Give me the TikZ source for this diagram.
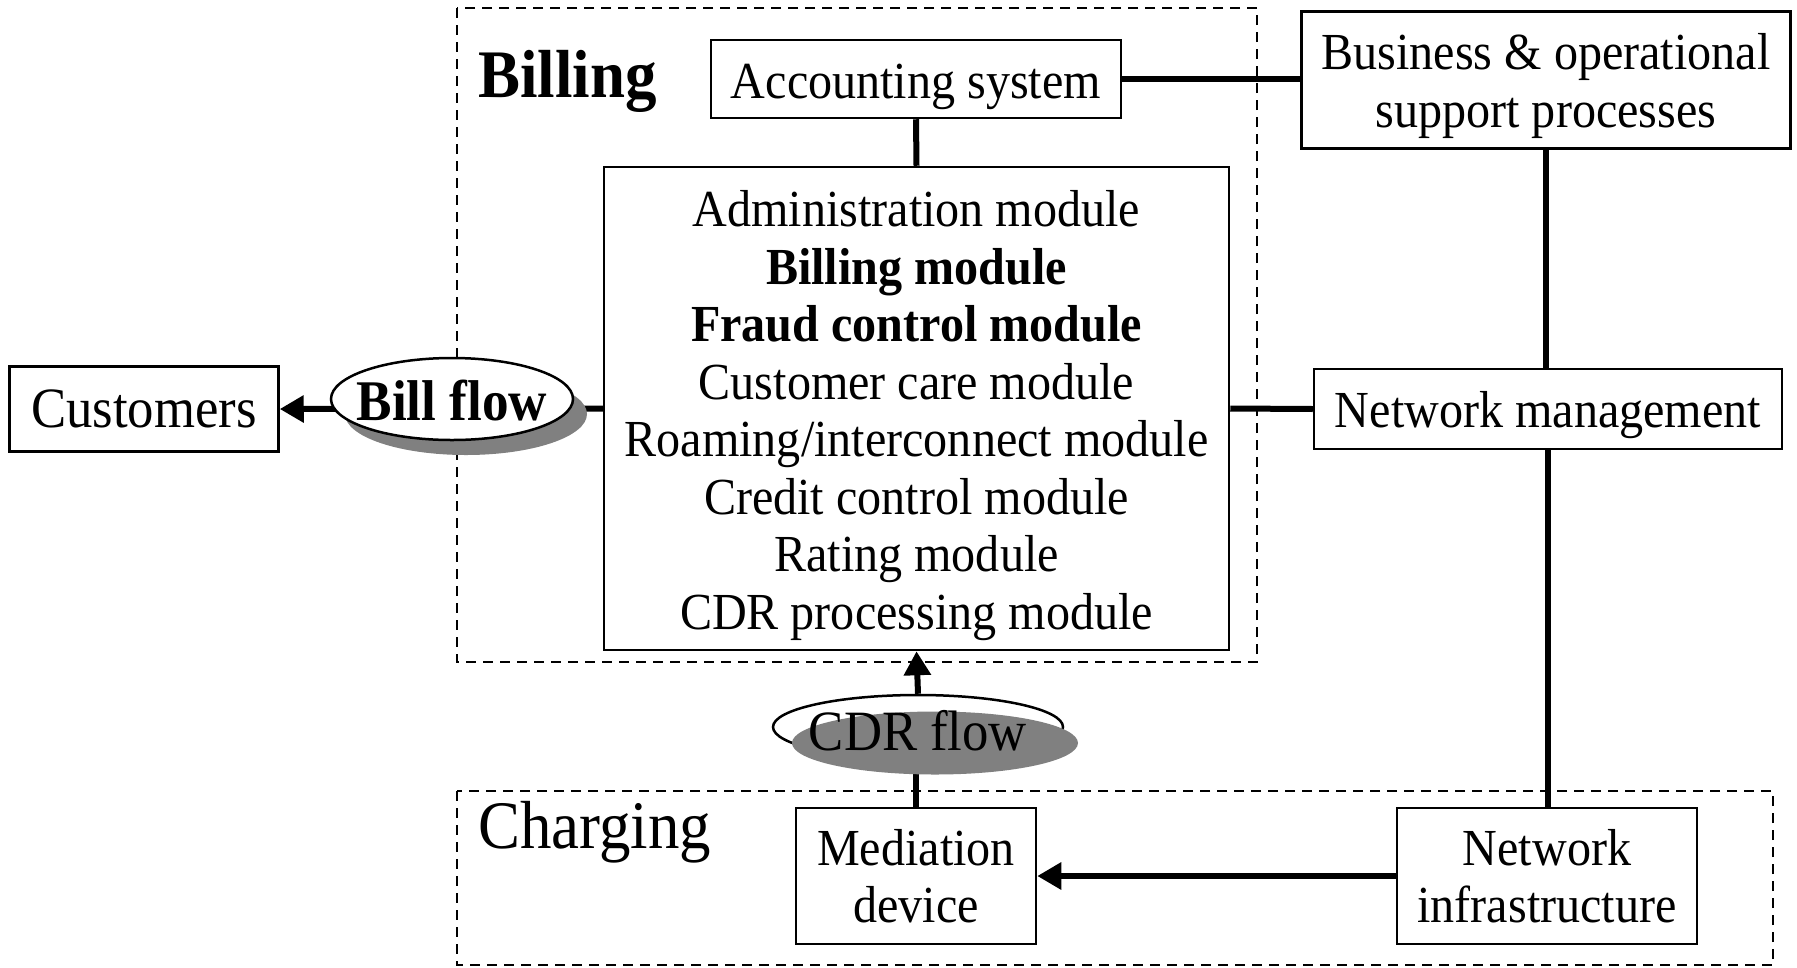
\documentclass[tikz,border=0pt]{standalone}
\usepackage{fontspec}
\setmainfont{Liberation Serif}[FakeStretch=0.925]
\usetikzlibrary{arrows.meta,shapes.geometric,shadows}
\newcommand{\sinkline}[1]{\rule{0pt}{#1}}
\begin{document}
\begin{tikzpicture}[x=1pt,y=-1pt,
 box/.style={draw, line width=2.5pt, fill=white, inner sep=0pt, align=center, font=\fontsize{52}{57.5}\selectfont},
 sinktext/.style={execute at begin node={\rule{0pt}{#1}}},
 conn/.style={line width=6pt},
 tip/.style={-{Triangle[length=24pt,width=26pt]}},
 region/.style={draw, line width=2pt, dash pattern=on 10pt off 7pt},
 flowtext/.style={inner sep=0pt, font=\fontsize{57}{60}\selectfont},
]
\useasboundingbox (0,0) rectangle (1797,967);
% regions
\draw[region] (457,8) rectangle (1257,662);
\draw[region] (457,791) rectangle (1773,965);
\node[anchor=base west, inner sep=0pt, font=\fontsize{68}{72}\selectfont\bfseries] (billinglbl) at (478,97) {Billing};
\node[anchor=base west, inner sep=0pt, font=\fontsize{68}{72}\selectfont] (charginglbl) at (478,848) {Charging};
% boxes
\node[box, minimum width=269pt, minimum height=85pt, font=\fontsize{57}{62}\selectfont] (cust) at (144,409) {Customers};
\node[box, sinktext=50pt, minimum width=410pt, minimum height=78pt] (acc) at (916,79) {Accounting system};
\node[box, minimum width=489pt, minimum height=137pt] (bus) at (1546,80) {\sinkline{48pt}Business \& operational\\support processes};
\node[box, minimum width=625pt, minimum height=483pt] (main) at (916.5,408.5) {\sinkline{50pt}Administration module\\\textbf{Billing module}\\\textbf{Fraud control module}\\Customer care module\\Roaming/interconnect module\\Credit control module\\Rating module\\CDR processing module};
\node[box, sinktext=48pt, minimum width=468pt, minimum height=80pt] (nm) at (1548,409) {Network management};
\node[box, minimum width=240pt, minimum height=136pt] (med) at (916,876) {Mediation\\device};
\node[box, minimum width=300pt, minimum height=136pt] (ni) at (1547,876) {Network\\infrastructure};
% connectors
\draw[conn] (acc.east) -- (acc.east -| bus.west);
\draw[conn] (acc.south) -- (main.north);
\draw[conn] (bus.south) -- (bus.south |- nm.north);
\draw[conn] (nm.south) -- (nm.south |- ni.north);
\draw[conn] (main.east) -- (nm.west);
\draw[conn, tip] (ni.west) -- (med.east);
\draw[conn, tip] (main.west) -- (cust.east);
% bill flow
\node[ellipse, draw, line width=2.5pt, fill=white, minimum width=242pt, minimum height=82pt, inner sep=0pt,
  drop shadow={shadow xshift=14pt, shadow yshift=-15pt, fill=gray, opacity=1}] (billflow) at (452,399) {};
\node[flowtext, font=\fontsize{57.5}{60}\selectfont\bfseries] (billflowtxt) at (452,401) {Bill flow};
% cdr flow
\coordinate (cdrc) at (918,727);
\draw[conn] (med.north) -- (med.north |- cdrc);
\node[ellipse, draw, line width=2.5pt, fill=white, minimum width=290pt, minimum height=64pt, inner sep=0pt] (cdrring) at (cdrc) {};
\node[ellipse, fill=gray, minimum width=286pt, minimum height=63pt, inner sep=0pt] (cdrshade) at (935,743) {};
\node[flowtext] (cdrtxt) at (918,731) {CDR flow};
\draw[conn, tip] (cdrring.north) -- (main.south);
\end{tikzpicture}
\end{document}
